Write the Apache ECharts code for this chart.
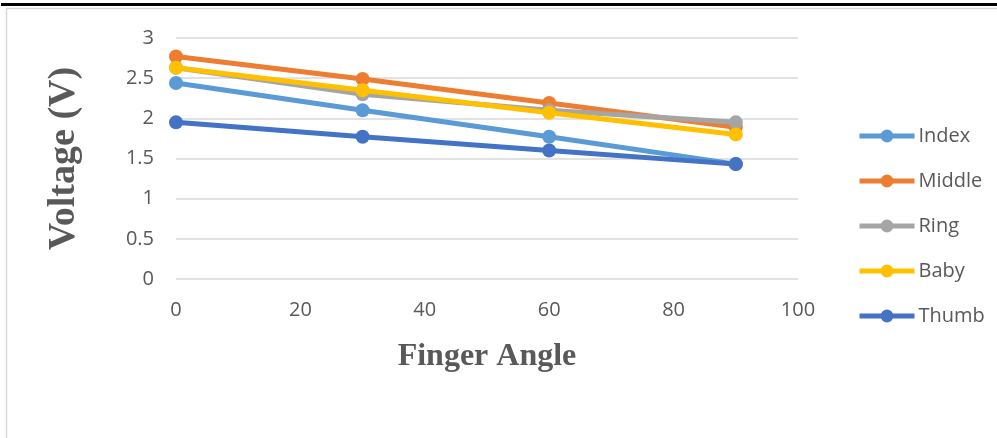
<!DOCTYPE html>
<html>
<head>
<meta charset="utf-8">
<script src="https://cdn.jsdelivr.net/npm/echarts@6/dist/echarts.min.js"></script>
<style>html,body{margin:0;padding:0;background:#fff;}#c{width:997px;height:438px;}</style>
</head>
<body>
<div id="c"></div>
<script>
var angles = [0, 30, 60, 90];
var seriesNames = ['Index', 'Middle', 'Ring', 'Baby', 'Thumb'];
var indexV  = [2.44, 2.10, 1.77, 1.43];
var middleV = [2.77, 2.49, 2.19, 1.89];
var ringV   = [2.63, 2.30, 2.10, 1.95];
var babyV   = [2.63, 2.35, 2.07, 1.80];
var thumbV  = [1.95, 1.77, 1.60, 1.43];
var colors = ['#5B9BD5', '#ED7D31', '#A5A5A5', '#FFC000', '#4472C4'];
var allValues = [indexV, middleV, ringV, babyV, thumbV];

function pairs(v) { return angles.map(function (a, i) { return [a, v[i]]; }); }

var font = 'Open Sans, Liberation Sans, sans-serif';
var chart = echarts.init(document.getElementById('c'), null, {renderer: 'canvas'});
chart.setOption({
  animation: false,
  color: colors,
  graphic: [
    {type: 'rect', shape: {x: 1, y: 3, width: 996, height: 3}, style: {fill: '#000'}, z: 10},
    {type: 'rect', shape: {x: 6.5, y: 8.5, width: 1000, height: 440}, style: {fill: 'none', stroke: '#d9d9d9', lineWidth: 1.5}, z: 10}
  ],
  grid: {left: 176, right: 199, top: 38, bottom: 159, containLabel: false},
  legend: {
    orient: 'vertical',
    left: 857,
    top: 124,
    itemGap: 21,
    itemWidth: 55,
    itemHeight: 16,
    padding: 0,
    lineStyle: {width: 5},
    textStyle: {color: '#595959', fontSize: 20, fontFamily: font, lineHeight: 24, padding: [0, 0, 0, -1]},
    data: seriesNames
  },
  xAxis: {
    type: 'value', min: 0, max: 100, interval: 20,
    name: 'Finger Angle', nameLocation: 'middle', nameGap: 62,
    nameTextStyle: {fontFamily: 'Liberation Serif, serif', fontWeight: 'bold', fontSize: 32, color: '#595959'},
    axisLine: {show: false}, axisTick: {show: false},
    axisLabel: {color: '#595959', fontSize: 20, margin: 21, fontFamily: font},
    splitLine: {show: false}
  },
  yAxis: {
    type: 'value', min: 0, max: 3, interval: 0.5,
    name: 'Voltage (V)', nameLocation: 'middle', nameGap: 93, nameRotate: 90,
    nameTextStyle: {fontFamily: 'Liberation Serif, serif', fontWeight: 'bold', fontSize: 38, color: '#595959'},
    axisLine: {show: false}, axisTick: {show: false},
    axisLabel: {color: '#595959', fontSize: 20, margin: 22, fontFamily: font},
    splitLine: {lineStyle: {color: '#d9d9d9', width: 1.5}}
  },
  series: seriesNames.map(function (n, i) {
    return {
      name: n, type: 'line', data: pairs(allValues[i]),
      symbol: 'circle', symbolSize: 14,
      lineStyle: {width: 5, color: colors[i]},
      itemStyle: {color: colors[i]},
      z: 2 + i
    };
  })
});
</script>
</body>
</html>
